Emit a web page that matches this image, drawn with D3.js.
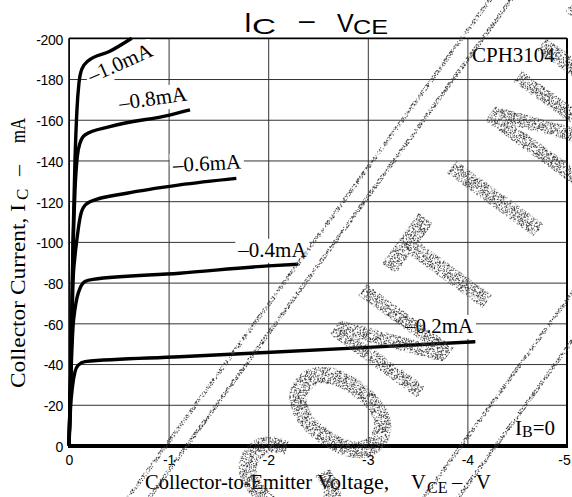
<!DOCTYPE html>
<html>
<head>
<meta charset="utf-8">
<script src="https://cdn.jsdelivr.net/npm/d3@7"></script>
<style>
  html, body { margin: 0; padding: 0; background: #fff; }
  svg { display: block; }
</style>
</head>
<body>
<svg id="chart" width="572" height="497"></svg>
<script>
// CPH3104 output characteristics: collector current vs collector-to-emitter voltage

// axis ticks
const vceTicks = [0, -1, -2, -3, -4, -5];
const icTicks = [0, -20, -40, -60, -80, -100, -120, -140, -160, -180, -200];

// base-current parameter for each curve
const ibLabels = ["–1.0mA", "–0.8mA", "–0.6mA", "–0.4mA", "–0.2mA"];

// [VCE (V), IC (mA)] points for each base current
const ib10 = [[0,0],[-0.02,-40],[-0.04,-100],[-0.06,-140],[-0.08,-165],[-0.10,-178],[-0.13,-185],[-0.19,-188.8],[-0.41,-193.6],[-0.63,-200]];
const ib08 = [[0,0],[-0.02,-40],[-0.04,-95],[-0.06,-125],[-0.083,-141.8],[-0.11,-148.4],[-0.16,-152.5],[-0.41,-156.6],[-1.01,-162.3],[-1.215,-164.8]];
const ib06 = [[0,0],[-0.02,-40],[-0.04,-80],[-0.06,-93],[-0.083,-102.6],[-0.11,-111.6],[-0.14,-116.5],[-0.21,-119.7],[-0.58,-123.9],[-1.11,-128],[-1.68,-131.2]];
const ib04 = [[0,0],[-0.02,-35],[-0.04,-58],[-0.06,-67],[-0.08,-72.5],[-0.117,-78],[-0.16,-80.5],[-0.24,-81.6],[-1.11,-84.6],[-2.0,-88.2],[-2.3,-89]];
const ib02 = [[0,0],[-0.015,-18],[-0.035,-29],[-0.06,-36.2],[-0.093,-39.5],[-0.16,-41.2],[-1.11,-43.6],[-3.0,-48.2],[-4.08,-51]];
const curves = [ib10, ib08, ib06, ib04, ib02];

// where each curve's label sits (VCE, IC at the start of the text) and its tilt
const labelSpots = [
  { v: -0.228, i: -178,  rot: -24 },
  { v: -0.512, i: -164.8, rot: -8 },
  { v: -1.047, i: -134.3, rot: -3 },
  { v: -1.70,  i: -92.7,  rot: 0 },
  { v: -3.373, i: -55.3,  rot: 0 }
];

const serif = "'Liberation Serif', 'Times New Roman', serif";
const sans = "'Liberation Sans', Arial, sans-serif";

const svg = d3.select("#chart");
const plotL = 69, plotR = 567, plotT = 38.3, plotB = 445.5;

const x = d3.scaleLinear().domain([0, -5]).range([plotL, plotR]);
const y = d3.scaleLinear().domain([0, -200]).range([plotB, plotT]);

// speckled stamp texture
const defs = svg.append("defs");
const grain = defs.append("filter").attr("id", "grain")
  .attr("x", "-10%").attr("y", "-10%").attr("width", "120%").attr("height", "120%");
grain.append("feTurbulence").attr("type", "fractalNoise").attr("baseFrequency", 0.9)
  .attr("numOctaves", 2).attr("seed", 7).attr("result", "noise");
grain.append("feColorMatrix").attr("in", "noise").attr("type", "matrix")
  .attr("values", "0 0 0 0 0  0 0 0 0 0  0 0 0 0 0  18 0 0 0 -9.4").attr("result", "mask");
grain.append("feComposite").attr("in", "SourceGraphic").attr("in2", "mask").attr("operator", "in");

// gridlines and tick labels
const yAxis = d3.axisLeft(y).tickValues(icTicks).tickSize(-(plotR - plotL)).tickPadding(6)
  .tickFormat(d => String(d));
const gy = svg.append("g").attr("transform", `translate(${plotL},0)`).call(yAxis);
gy.select(".domain").remove();
gy.selectAll("line").attr("stroke", "#333").attr("stroke-width", 1);
gy.selectAll("text").attr("font-family", sans).attr("font-size", 14).attr("fill", "#000")
  .attr("dy", "0.42em").attr("letter-spacing", -0.3);

const xAxis = d3.axisBottom(x).tickValues(vceTicks).tickSize(-(plotB - plotT)).tickPadding(10)
  .tickFormat(d => String(d));
const gx = svg.append("g").attr("transform", `translate(0,${plotB})`).call(xAxis);
gx.select(".domain").remove();
gx.selectAll("line").attr("stroke", "#333").attr("stroke-width", 1);
gx.selectAll("text").attr("font-family", sans).attr("font-size", 14).attr("fill", "#000");
gx.selectAll(".tick").filter(d => d === -5).select("text").attr("x", -3);

// text with a white backing box that hides the grid behind it
function boxedText(px, py, rot, fill) {
  const g = svg.append("g").attr("transform", `translate(${px},${py}) rotate(${rot})`);
  const bg = g.append("rect").attr("fill", "#fff");
  const t = g.append("text").attr("font-family", serif).attr("font-size", 21).attr("fill", "#000");
  fill(t);
  const b = t.node().getBBox();
  bg.attr("x", b.x - 2).attr("y", b.y + 1).attr("width", b.width + 4).attr("height", b.height);
  return g;
}

labelSpots.forEach((s, k) => {
  boxedText(x(s.v), y(s.i), s.rot, t => t.text(ibLabels[k]));
});

boxedText(472, 62, 0, t => t.text("CPH3104"));
boxedText(515, 434.5, 0, t => {
  t.append("tspan").text("I");
  t.append("tspan").attr("font-size", 16).attr("dy", 2).text("B");
  t.append("tspan").attr("dy", -2).text("=0");
});

// curves
const line = d3.line().x(d => x(d[0])).y(d => y(d[1])).curve(d3.curveMonotoneX);
svg.append("g").selectAll("path").data(curves).join("path")
  .attr("d", line).attr("fill", "none").attr("stroke", "#000").attr("stroke-width", 3.4)
  .attr("stroke-linejoin", "round");

// plot frame
const frame = svg.append("g").attr("stroke", "#000").attr("fill", "none");
frame.append("line").attr("x1", plotL).attr("x2", plotR).attr("y1", plotT).attr("y2", plotT).attr("stroke-width", 1.5);
frame.append("line").attr("x1", plotL).attr("x2", plotL).attr("y1", plotT).attr("y2", plotB).attr("stroke-width", 1.5);
frame.append("line").attr("x1", plotR).attr("x2", plotR).attr("y1", plotT).attr("y2", plotB).attr("stroke-width", 2);
frame.append("line").attr("x1", plotL - 1).attr("x2", plotR + 1).attr("y1", plotB + 0.5).attr("y2", plotB + 0.5).attr("stroke-width", 4);

// title
const title = svg.append("g").attr("font-family", sans).attr("fill", "#000");
title.append("text").attr("x", 244).attr("y", 32).attr("font-size", 28).text("I");
title.append("text").attr("x", 252).attr("y", 33.5).attr("font-size", 22)
  .attr("textLength", 24).attr("lengthAdjust", "spacingAndGlyphs").text("C");
title.append("text").attr("x", 299).attr("y", 29).attr("font-size", 28).text("–");
title.append("text").attr("x", 337).attr("y", 32).attr("font-size", 25).text("V");
title.append("text").attr("x", 353).attr("y", 33.5).attr("font-size", 20)
  .attr("textLength", 35).attr("lengthAdjust", "spacingAndGlyphs").text("CE");

// x-axis title
const xt = svg.append("g").attr("font-family", serif).attr("fill", "#000").attr("font-size", 20.5);
xt.append("text").attr("x", 145).attr("y", 489)
  .attr("textLength", 167).attr("lengthAdjust", "spacingAndGlyphs").text("Collector-to-Emitter");
xt.append("text").attr("x", 317).attr("y", 489).attr("font-size", 22).text("Voltage,");
xt.append("text").attr("x", 411).attr("y", 489).text("V");
xt.append("text").attr("x", 427).attr("y", 493).attr("font-size", 16).text("CE");
xt.append("text").attr("x", 452).attr("y", 489).text("–");
xt.append("text").attr("x", 476).attr("y", 489).text("V");

// y-axis title, reading upward
const yt = svg.append("g").attr("font-family", serif).attr("fill", "#000")
  .attr("transform", "translate(25,0) rotate(-90)");
yt.append("text").attr("x", -388).attr("y", 0).attr("font-size", 22)
  .attr("textLength", 184).attr("lengthAdjust", "spacingAndGlyphs").text("Collector Current, I");
yt.append("text").attr("x", -200).attr("y", 3).attr("font-size", 17).text("C");
yt.append("text").attr("x", -176).attr("y", 0).attr("font-size", 22).text("–");
yt.append("text").attr("x", -143).attr("y", 0).attr("font-size", 22)
  .attr("textLength", 25).attr("lengthAdjust", "spacingAndGlyphs").text("mA");

// "DISCONTINUED" stamp laid diagonally over the chart, evenly pitched letters
const stampWord = "DISCONTINUED";
const pitch = 88, squeeze = 0.68;
const stamp = svg.append("g").attr("filter", "url(#grain)")
  .attr("transform", "translate(340,412) rotate(-54)");
stamp.append("text")
  .attr("transform", `scale(${squeeze},1)`)
  .attr("x", stampWord.split("").map((c, i) => ((i - 4) * pitch / squeeze).toFixed(1)).join(" "))
  .attr("y", 0)
  .attr("text-anchor", "middle").attr("dominant-baseline", "central")
  .attr("font-family", sans).attr("font-weight", "bold").attr("font-size", 155)
  .attr("fill", "#3a3a3a").text(stampWord);
[-121, -104, 118, 146].forEach(off => {
  stamp.append("line").attr("x1", -900).attr("x2", 900).attr("y1", off).attr("y2", off)
    .attr("stroke", "#3a3a3a").attr("stroke-width", 4);
});
</script>
</body>
</html>
